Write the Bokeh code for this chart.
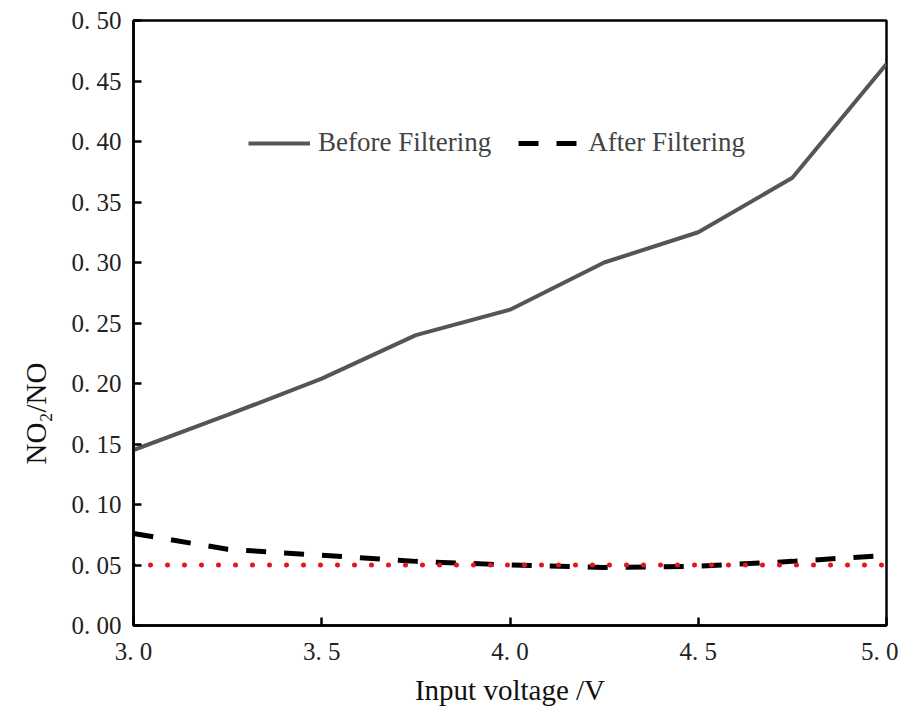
from bokeh.plotting import figure
from bokeh.models import Range1d, FixedTicker, Legend, LegendItem, Title
from bokeh.embed import file_html
from bokeh.resources import INLINE

voltage = [3.0, 3.25, 3.5, 3.75, 4.0, 4.25, 4.5, 4.75, 5.0]
before = [0.145, 0.174, 0.204, 0.240, 0.261, 0.300, 0.325, 0.370, 0.464]
after = [0.076, 0.063, 0.058, 0.053, 0.050, 0.048, 0.049, 0.053, 0.058]
ref_x = [3.0, 5.0]
ref_y = [0.05, 0.05]
x_ticks = [3.0, 3.5, 4.0, 4.5, 5.0]
x_labels = ["3. 0", "3. 5", "4. 0", "4. 5", "5. 0"]
y_ticks = [0.0, 0.05, 0.10, 0.15, 0.20, 0.25, 0.30, 0.35, 0.40, 0.45, 0.50]
y_labels = ["0. 00", "0. 05", "0. 10", "0. 15", "0. 20", "0. 25", "0. 30", "0. 35", "0. 40", "0. 45", "0. 50"]

FONT = "Liberation Serif"

p = figure(width=898, height=708, output_backend="svg", toolbar_location=None,
           x_range=Range1d(3.0, 5.0), y_range=Range1d(0.0, 0.5),
           min_border_left=131, min_border_right=12, min_border_top=20, min_border_bottom=79)
p.grid.visible = False
p.outline_line_color = "black"
p.outline_line_width = 2.5
p.background_fill_color = "white"
p.border_fill_color = "white"

for ax in (p.xaxis, p.yaxis):
    ax.axis_line_width = 2.5
    ax.axis_line_color = "black"
    ax.major_tick_in = 8
    ax.major_tick_out = 0
    ax.major_tick_line_width = 2.5
    ax.minor_tick_line_color = None
    ax.major_label_text_font = FONT
    ax.major_label_text_font_size = "25px"
    ax.major_label_text_color = "#222222"
    ax.axis_label_text_font = FONT
    ax.axis_label_text_font_size = "29px"
    ax.axis_label_text_font_style = "normal"
    ax.axis_label_text_color = "#111111"

p.xaxis.ticker = FixedTicker(ticks=x_ticks)
p.xaxis.major_label_overrides = {t: l for t, l in zip(x_ticks, x_labels)}
p.yaxis.ticker = FixedTicker(ticks=y_ticks)
p.yaxis.major_label_overrides = {t: l for t, l in zip(y_ticks, y_labels)}
p.xaxis.axis_label = "Input voltage /V"
p.xaxis.major_label_standoff = 12
p.yaxis.major_label_standoff = 12
p.xaxis.axis_label_standoff = 6

ytitle = Title(text="NO\u2082/NO", align="left", offset=161, standoff=34,
               text_font=FONT, text_font_size="29px", text_font_style="normal",
               text_color="#111111")
p.add_layout(ytitle, "left")

r1 = p.line(voltage, before, line_color="#555555", line_width=4)
r2 = p.line(voltage, after, line_color="black", line_width=5, line_dash="20 18")
p.line(ref_x, ref_y, line_color="#e8141a", line_width=5, line_dash="0 17", line_cap="round")

legend = Legend(items=[LegendItem(label="Before Filtering", renderers=[r1]),
                       LegendItem(label="After Filtering", renderers=[r2])],
                orientation="horizontal", location=(115, 467),
                border_line_color=None, background_fill_alpha=0,
                label_text_font=FONT, label_text_font_size="27px",
                glyph_width=62, glyph_height=22, spacing=27, padding=4, margin=0,
                label_standoff=8)
p.add_layout(legend)

open("out.html", "w").write(file_html(p, INLINE))
